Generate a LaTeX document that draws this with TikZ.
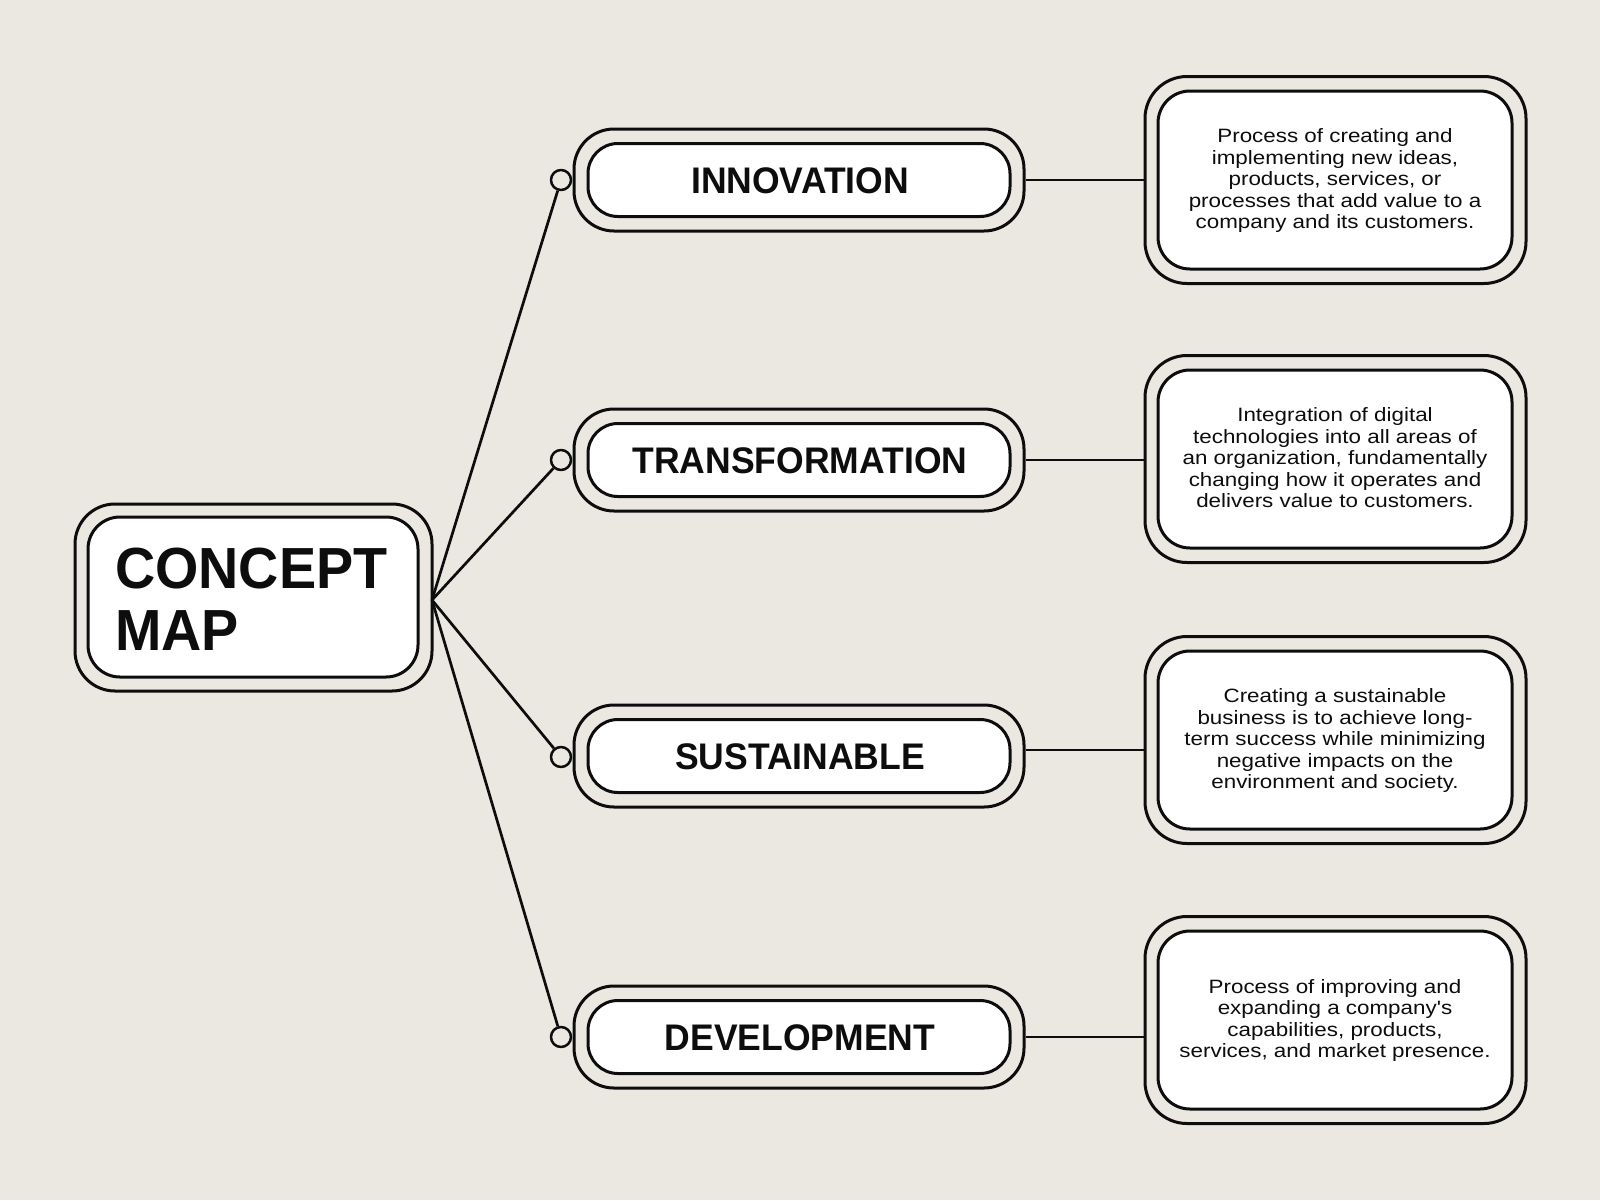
\documentclass[tikz,border=0pt]{standalone}
\usepackage{fontspec}
\setmainfont[FakeStretch=1.16,Ligatures=TeXOff]{Liberation Sans}
\newfontfamily\titlefont[FakeStretch=0.96]{Liberation Sans}
\definecolor{bg}{HTML}{EBE8E2}
\definecolor{ink}{HTML}{0D0D0D}
\begin{document}
\begin{tikzpicture}[x=1pt,y=-1pt,line join=round,
  outerbox/.style={draw=ink,line width=3pt,fill=bg,inner sep=0pt},
  innerbox/.style={draw=ink,line width=3pt,fill=white,inner sep=0pt},
  lblbox/.style={minimum width=450pt,minimum height=102pt,rounded corners=40pt},
  lblin/.style={minimum width=422pt,minimum height=73pt,rounded corners=30pt},
  descbox/.style={minimum width=381pt,minimum height=207pt,rounded corners=42pt},
  descin/.style={minimum width=354pt,minimum height=178pt,rounded corners=32pt},
  lbl/.style={font=\titlefont\bfseries\fontsize{37}{40}\selectfont,text=ink,inner sep=0pt,anchor=base},
  desc/.style={font=\fontsize{19.3}{21.5}\selectfont,text=ink,inner sep=0pt,anchor=base},
  dot/.style={circle,draw=ink,line width=2.5pt,fill=bg,minimum size=20pt,inner sep=0pt},
  conn/.style={draw=ink,line width=2.7pt}]
\useasboundingbox (0,0) rectangle (1600,1200);
\fill[bg] (0,0) rectangle (1600,1200);

% central box
\node[outerbox,minimum width=357pt,minimum height=187pt,rounded corners=40pt] (co) at (253.5,597.5) {};
\node[innerbox,minimum width=330pt,minimum height=160pt,rounded corners=32pt] (ci) at (253,597) {};
\node[font=\titlefont\bfseries\fontsize{58}{62}\selectfont,text=ink,inner sep=0pt,anchor=base west] (ct) at (115,588)
  {\begin{tabular}[t]{@{}l@{}}CONCEPT\\MAP\end{tabular}};
\coordinate (hub) at (432,600);

% label boxes
\node[outerbox,lblbox] (n1o) at (799,180) {};
\node[innerbox,lblin] (n1i) at (799,180) {};
\node[lbl] (n1t) at (800,193.3) {INNOVATION};
\node[outerbox,lblbox] (n2o) at (799,460) {};
\node[innerbox,lblin] (n2i) at (799,460) {};
\node[lbl] (n2t) at (800,473.3) {TRANSFORMATION};
\node[outerbox,lblbox] (n3o) at (799,756) {};
\node[innerbox,lblin] (n3i) at (799,756) {};
\node[lbl] (n3t) at (800,769.3) {SUSTAINABLE};
\node[outerbox,lblbox] (n4o) at (799,1037) {};
\node[innerbox,lblin] (n4i) at (799,1037) {};
\node[lbl] (n4t) at (800,1050.3) {DEVELOPMENT};

% circles
\node[dot] (c1) at (561,180) {};
\node[dot] (c2) at (561,460) {};
\node[dot] (c3) at (561,757) {};
\node[dot] (c4) at (561,1037) {};

% description boxes
\node[outerbox,descbox] (d1o) at (1335.5,180) {};
\node[innerbox,descin] (d1i) at (1335,180) {};
\node[desc] (d1t) at (1335,142.5) {\begin{tabular}[t]{@{}c@{}}Process of creating and\\implementing new ideas,\\products, services, or\\processes that add value to a\\company and its customers.\end{tabular}};
\node[outerbox,descbox] (d2o) at (1335.5,459) {};
\node[innerbox,descin] (d2i) at (1335,459) {};
\node[desc] (d2t) at (1335,421.5) {\begin{tabular}[t]{@{}c@{}}Integration of digital\\technologies into all areas of\\an organization, fundamentally\\changing how it operates and\\delivers value to customers.\end{tabular}};
\node[outerbox,descbox] (d3o) at (1335.5,740) {};
\node[innerbox,descin] (d3i) at (1335,740) {};
\node[desc] (d3t) at (1335,702.5) {\begin{tabular}[t]{@{}c@{}}Creating a sustainable\\business is to achieve long-\\term success while minimizing\\negative impacts on the\\environment and society.\end{tabular}};
\node[outerbox,descbox] (d4o) at (1335.5,1020) {};
\node[innerbox,descin] (d4i) at (1335,1020) {};
\node[desc] (d4t) at (1335,993.3) {\begin{tabular}[t]{@{}c@{}}Process of improving and\\expanding a company's\\capabilities, products,\\services, and market presence.\end{tabular}};

% connectors
\draw[conn] (hub) -- (c1);
\draw[conn] (hub) -- (c2);
\draw[conn] (hub) -- (c3);
\draw[conn] (hub) -- (c4);
\draw[conn] (n1o.east) -- (d1o.west);
\draw[conn] (n2o.east) -- (n2o.east -| d2o.west);
\draw[conn] ([yshift=6pt]n3o.east) -- ([yshift=6pt]n3o.east -| d3o.west);
\draw[conn] (n4o.east) -- (n4o.east -| d4o.west);
\end{tikzpicture}
\end{document}
